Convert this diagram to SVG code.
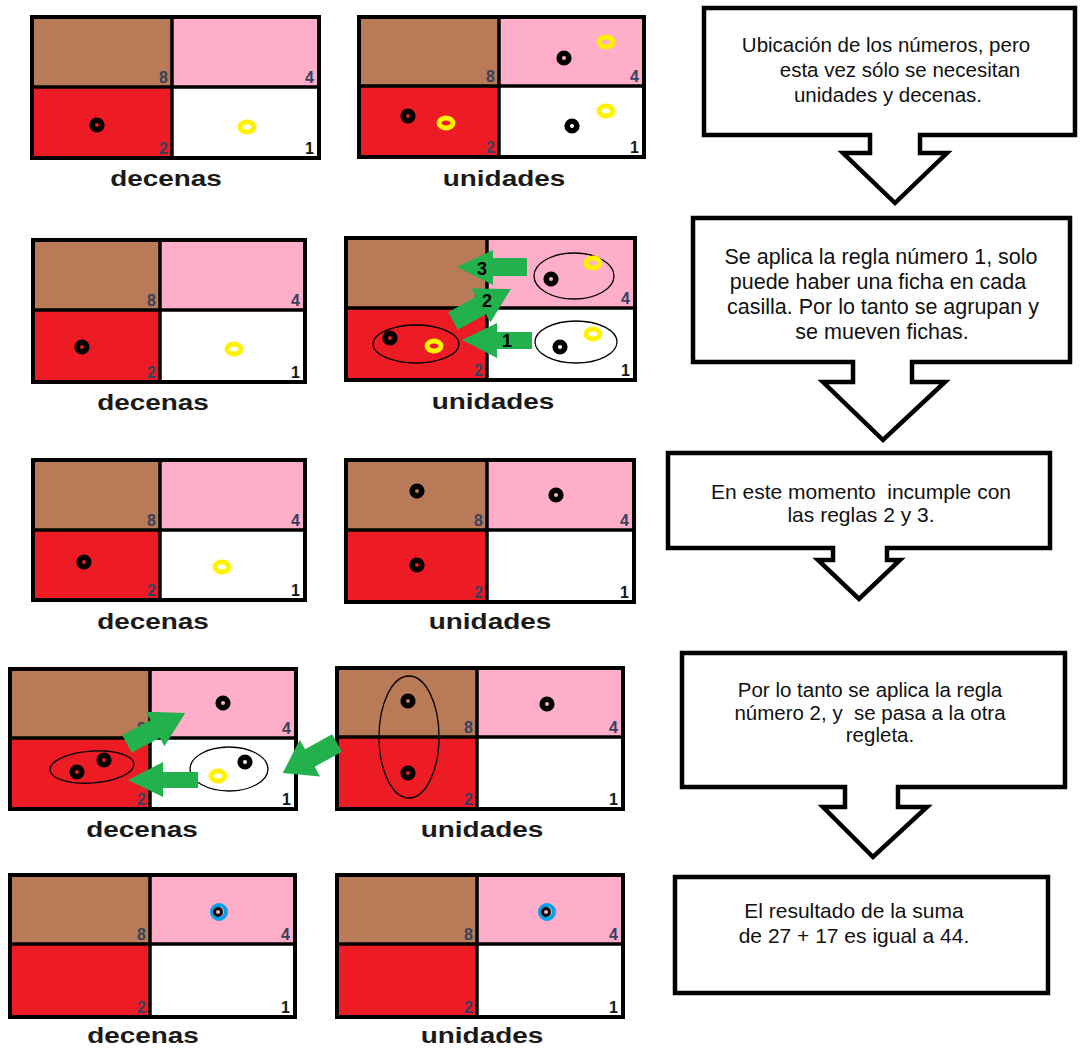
<svg xmlns="http://www.w3.org/2000/svg" xmlns:xlink="http://www.w3.org/1999/xlink" width="1080" height="1049" viewBox="0 0 1080 1049">
<style>
.br{fill:#B97A57}.pk{fill:#FFAEC9}.rd{fill:#ED1C24}.wh{fill:#FFFFFF}
.frame{fill:none;stroke:#000;stroke-width:4}
.ln{stroke:#000;stroke-width:3.5}
.num{font-family:"Liberation Sans",Arial,sans-serif;font-weight:bold;font-size:16px;fill:#34425e;text-anchor:end}
.n1{fill:#151515}
.lab{font-family:"Liberation Sans",Arial,sans-serif;font-weight:bold;font-size:22px;fill:#1a1a1a;text-anchor:middle}
.sel{fill:none;stroke:#000;stroke-width:1.3}
.ga{fill:#22B14C}
.an{font-family:"Liberation Sans",Arial,sans-serif;font-weight:bold;font-size:18px;fill:#000;text-anchor:middle}
.box{fill:#fff;stroke:#000;stroke-width:4.5;stroke-linejoin:miter}
.bt{font-family:"Liberation Sans",Arial,sans-serif;font-size:20.5px;fill:#111;text-anchor:middle}
</style>
<defs>
<circle id="bk" r="4.8" fill="none" stroke="#000" stroke-width="5.6"/>
<ellipse id="yl" rx="7" ry="5" fill="none" stroke="#FFF200" stroke-width="5"/>
<g id="bl"><circle r="7" fill="none" stroke="#00A2E8" stroke-width="4"/><circle cx="-1" r="3.5" fill="none" stroke="#000" stroke-width="3"/></g>
<polygon id="darrow" points="0,-10 32,-10 32,-19.5 66,0 32,19.5 32,10 0,10"/>
</defs>
<rect width="1080" height="1049" fill="#fff"/>

<!-- Row 1 -->
<g id="r1-decenas">
<rect class="br" x="32" y="17" width="140" height="70"/><rect class="pk" x="172" y="17" width="147" height="70"/>
<rect class="rd" x="32" y="87" width="140" height="71"/><rect class="wh" x="172" y="87" width="147" height="71"/>
<line class="ln" x1="172" y1="17" x2="172" y2="158"/><line class="ln" x1="32" y1="87" x2="319" y2="87"/>
<rect class="frame" x="32" y="17" width="287" height="141"/>
<text class="num" x="168" y="83">8</text><text class="num" x="314" y="83">4</text>
<text class="num" x="168" y="154">2</text><text class="num n1" x="314" y="154">1</text>
<use xlink:href="#bk" x="97" y="125"/><use xlink:href="#yl" x="247" y="127"/>
<text class="lab" transform="translate(166,186) scale(1.27,1)">decenas</text>
</g>
<g id="r1-unidades">
<rect class="br" x="359" y="17" width="140" height="69"/><rect class="pk" x="499" y="17" width="145" height="69"/>
<rect class="rd" x="359" y="86" width="140" height="71"/><rect class="wh" x="499" y="86" width="145" height="71"/>
<line class="ln" x1="499" y1="17" x2="499" y2="157"/><line class="ln" x1="359" y1="86" x2="644" y2="86"/>
<rect class="frame" x="359" y="17" width="285" height="140"/>
<text class="num" x="495" y="82">8</text><text class="num" x="639" y="82">4</text>
<text class="num" x="495" y="153">2</text><text class="num n1" x="639" y="153">1</text>
<use xlink:href="#bk" x="564" y="58"/><use xlink:href="#yl" x="606" y="42"/>
<use xlink:href="#bk" x="408" y="116"/><use xlink:href="#yl" x="446" y="123"/>
<use xlink:href="#bk" x="572" y="126"/><use xlink:href="#yl" x="606" y="111"/>
<text class="lab" transform="translate(504,186) scale(1.27,1)">unidades</text>
</g>

<!-- Row 2 -->
<g id="r2-decenas">
<rect class="br" x="33" y="240" width="127" height="70"/><rect class="pk" x="160" y="240" width="145" height="70"/>
<rect class="rd" x="33" y="310" width="127" height="72"/><rect class="wh" x="160" y="310" width="145" height="72"/>
<line class="ln" x1="160" y1="240" x2="160" y2="382"/><line class="ln" x1="33" y1="310" x2="305" y2="310"/>
<rect class="frame" x="33" y="240" width="272" height="142"/>
<text class="num" x="156" y="306">8</text><text class="num" x="300" y="306">4</text>
<text class="num" x="156" y="378">2</text><text class="num n1" x="300" y="378">1</text>
<use xlink:href="#bk" x="82" y="347"/><use xlink:href="#yl" x="234" y="349"/>
<text class="lab" transform="translate(153,410) scale(1.27,1)">decenas</text>
</g>
<g id="r2-unidades">
<rect class="br" x="346" y="238" width="141" height="70"/><rect class="pk" x="487" y="238" width="148" height="70"/>
<rect class="rd" x="346" y="308" width="141" height="72"/><rect class="wh" x="487" y="308" width="148" height="72"/>
<line class="ln" x1="487" y1="238" x2="487" y2="380"/><line class="ln" x1="346" y1="308" x2="635" y2="308"/>
<rect class="frame" x="346" y="238" width="289" height="142"/>
<text class="num" x="483" y="304">8</text><text class="num" x="630" y="304">4</text>
<text class="num" x="483" y="376">2</text><text class="num n1" x="630" y="376">1</text>
<ellipse class="sel" cx="574" cy="276" rx="40" ry="23"/>
<use xlink:href="#bk" x="551" y="279"/><use xlink:href="#yl" x="593" y="263"/>
<ellipse class="sel" cx="576" cy="342" rx="41" ry="21"/>
<use xlink:href="#bk" x="560" y="347"/><use xlink:href="#yl" x="593" y="334"/>
<ellipse class="sel" cx="416" cy="344" rx="43" ry="19"/>
<use xlink:href="#bk" x="390" y="338"/><use xlink:href="#yl" x="434" y="346"/>
<text class="lab" transform="translate(493,409) scale(1.27,1)">unidades</text>
</g>

<!-- Row 3 -->
<g id="r3-decenas">
<rect class="br" x="33" y="460" width="127" height="70"/><rect class="pk" x="160" y="460" width="145" height="70"/>
<rect class="rd" x="33" y="530" width="127" height="70"/><rect class="wh" x="160" y="530" width="145" height="70"/>
<line class="ln" x1="160" y1="460" x2="160" y2="600"/><line class="ln" x1="33" y1="530" x2="305" y2="530"/>
<rect class="frame" x="33" y="460" width="272" height="140"/>
<text class="num" x="156" y="526">8</text><text class="num" x="300" y="526">4</text>
<text class="num" x="156" y="596">2</text><text class="num n1" x="300" y="596">1</text>
<use xlink:href="#bk" x="84" y="562"/><use xlink:href="#yl" x="222" y="567"/>
<text class="lab" transform="translate(153,629) scale(1.27,1)">decenas</text>
</g>
<g id="r3-unidades">
<rect class="br" x="346" y="460" width="141" height="70"/><rect class="pk" x="487" y="460" width="147" height="70"/>
<rect class="rd" x="346" y="530" width="141" height="72"/><rect class="wh" x="487" y="530" width="147" height="72"/>
<line class="ln" x1="487" y1="460" x2="487" y2="602"/><line class="ln" x1="346" y1="530" x2="634" y2="530"/>
<rect class="frame" x="346" y="460" width="288" height="142"/>
<text class="num" x="483" y="526">8</text><text class="num" x="629" y="526">4</text>
<text class="num" x="483" y="598">2</text><text class="num n1" x="629" y="598">1</text>
<use xlink:href="#bk" x="417" y="491"/><use xlink:href="#bk" x="556" y="495"/><use xlink:href="#bk" x="417" y="565"/>
<text class="lab" transform="translate(490,629) scale(1.27,1)">unidades</text>
</g>

<!-- Row 4 -->
<g id="r4-decenas">
<rect class="br" x="10" y="669" width="140" height="69"/><rect class="pk" x="150" y="669" width="146" height="69"/>
<rect class="rd" x="10" y="738" width="140" height="71"/><rect class="wh" x="150" y="738" width="146" height="71"/>
<line class="ln" x1="150" y1="669" x2="150" y2="809"/><line class="ln" x1="10" y1="738" x2="296" y2="738"/>
<rect class="frame" x="10" y="669" width="286" height="140"/>
<text class="num" x="146" y="734">8</text><text class="num" x="291" y="734">4</text>
<text class="num" x="146" y="805">2</text><text class="num n1" x="291" y="805">1</text>
<use xlink:href="#bk" x="223" y="703"/>
<ellipse class="sel" cx="92" cy="767" rx="42" ry="16" transform="rotate(-4 92 767)"/>
<use xlink:href="#bk" x="77" y="772"/><use xlink:href="#bk" x="104" y="760"/>
<ellipse class="sel" cx="229" cy="769" rx="39" ry="22"/>
<use xlink:href="#yl" x="218" y="776"/><use xlink:href="#bk" x="245" y="762"/>
<text class="lab" transform="translate(142,837) scale(1.27,1)">decenas</text>
</g>
<g id="r4-unidades">
<rect class="br" x="337" y="668" width="140" height="69"/><rect class="pk" x="477" y="668" width="146" height="69"/>
<rect class="rd" x="337" y="737" width="140" height="72"/><rect class="wh" x="477" y="737" width="146" height="72"/>
<line class="ln" x1="477" y1="668" x2="477" y2="809"/><line class="ln" x1="337" y1="737" x2="623" y2="737"/>
<rect class="frame" x="337" y="668" width="286" height="141"/>
<text class="num" x="473" y="733">8</text><text class="num" x="618" y="733">4</text>
<text class="num" x="473" y="805">2</text><text class="num n1" x="618" y="805">1</text>
<ellipse class="sel" cx="409" cy="737" rx="30" ry="61"/>
<use xlink:href="#bk" x="408" y="701"/><use xlink:href="#bk" x="408" y="773"/><use xlink:href="#bk" x="547" y="704"/>
<text class="lab" transform="translate(482,837) scale(1.27,1)">unidades</text>
</g>

<!-- Row 5 -->
<g id="r5-decenas">
<rect class="br" x="10" y="875" width="140" height="69"/><rect class="pk" x="150" y="875" width="145" height="69"/>
<rect class="rd" x="10" y="944" width="140" height="73"/><rect class="wh" x="150" y="944" width="145" height="73"/>
<line class="ln" x1="150" y1="875" x2="150" y2="1017"/><line class="ln" x1="10" y1="944" x2="295" y2="944"/>
<rect class="frame" x="10" y="875" width="285" height="142"/>
<text class="num" x="146" y="940">8</text><text class="num" x="290" y="940">4</text>
<text class="num" x="146" y="1013">2</text><text class="num n1" x="290" y="1013">1</text>
<use xlink:href="#bl" x="219" y="912"/>
<text class="lab" transform="translate(143,1043) scale(1.27,1)">decenas</text>
</g>
<g id="r5-unidades">
<rect class="br" x="337" y="875" width="140" height="69"/><rect class="pk" x="477" y="875" width="146" height="69"/>
<rect class="rd" x="337" y="944" width="140" height="73"/><rect class="wh" x="477" y="944" width="146" height="73"/>
<line class="ln" x1="477" y1="875" x2="477" y2="1017"/><line class="ln" x1="337" y1="944" x2="623" y2="944"/>
<rect class="frame" x="337" y="875" width="286" height="142"/>
<text class="num" x="473" y="940">8</text><text class="num" x="618" y="940">4</text>
<text class="num" x="473" y="1013">2</text><text class="num n1" x="618" y="1013">1</text>
<use xlink:href="#bl" x="547" y="912"/>
<text class="lab" transform="translate(482,1043) scale(1.27,1)">unidades</text>
</g>

<!-- Green move arrows -->
<g id="connectors">
<polygon class="ga" points="457,267 493,250 493,258 527,258 527,276 493,276 493,285"/>
<text class="an" x="482" y="275">3</text>
<use xlink:href="#darrow" class="ga" transform="translate(453,321) rotate(-29)"/>
<text class="an" x="487" y="307">2</text>
<polygon class="ga" points="462,340 497,323 497,332 532,332 532,349 497,349 497,358"/>
<text class="an" x="507" y="347">1</text>
<polygon class="ga" points="128,780 163,762 163,772 198,772 198,788 163,788 163,797"/>
<use xlink:href="#darrow" class="ga" transform="translate(127,744) rotate(-28)"/>
<polygon class="ga" points="0,-10 31,-10 31,-21 62,0 31,21 31,10 0,10" transform="translate(337,743) rotate(151)"/>
</g>

<!-- Callouts -->
<g id="callout1">
<path class="box" d="M704,8 H1075 V135 H920 V153 H947 L895,203 L843,153 H870 V135 H704 Z"/>
<text class="bt" x="886" y="52">Ubicación de los números, pero</text>
<text class="bt" x="900" y="77">esta vez sólo se necesitan</text>
<text class="bt" x="888" y="102">unidades y decenas.</text>
</g>
<g id="callout2">
<path class="box" d="M693,218 H1070 V362 H912 V382 H945 L883,440 L823,382 H853 V362 H693 Z"/>
<text class="bt" x="881" y="264" style="font-size:21.5px">Se aplica la regla número 1, solo</text>
<text class="bt" x="878" y="289" style="font-size:21.5px">puede haber una ficha en cada</text>
<text class="bt" x="883" y="314" style="font-size:21.5px">casilla. Por lo tanto se agrupan y</text>
<text class="bt" x="882" y="339" style="font-size:21.5px">se mueven fichas.</text>
</g>
<g id="callout3">
<path class="box" d="M668,453 H1050 V548 H887 V560 H900 L859,599 L818,560 H833 V548 H668 Z"/>
<text class="bt" x="861" y="499" style="font-size:21px;white-space:pre">En este momento  incumple con</text>
<text class="bt" x="861" y="522" style="font-size:21px">las reglas 2 y 3.</text>
</g>
<g id="callout4">
<path class="box" d="M682,653 H1065 V787 H898 V807 H927 L873,857 L823,807 H845 V787 H682 Z"/>
<text class="bt" x="870" y="697">Por lo tanto se aplica la regla</text>
<text class="bt" x="870" y="720" style="white-space:pre">número 2, y  se pasa a la otra</text>
<text class="bt" x="880" y="742">regleta.</text>
</g>
<g id="callout5">
<rect class="box" x="675" y="877" width="373" height="116"/>
<text class="bt" x="854" y="918" style="font-size:21px">El resultado de la suma</text>
<text class="bt" x="854" y="943" style="font-size:21px">de 27 + 17 es igual a 44.</text>
</g>
</svg>
